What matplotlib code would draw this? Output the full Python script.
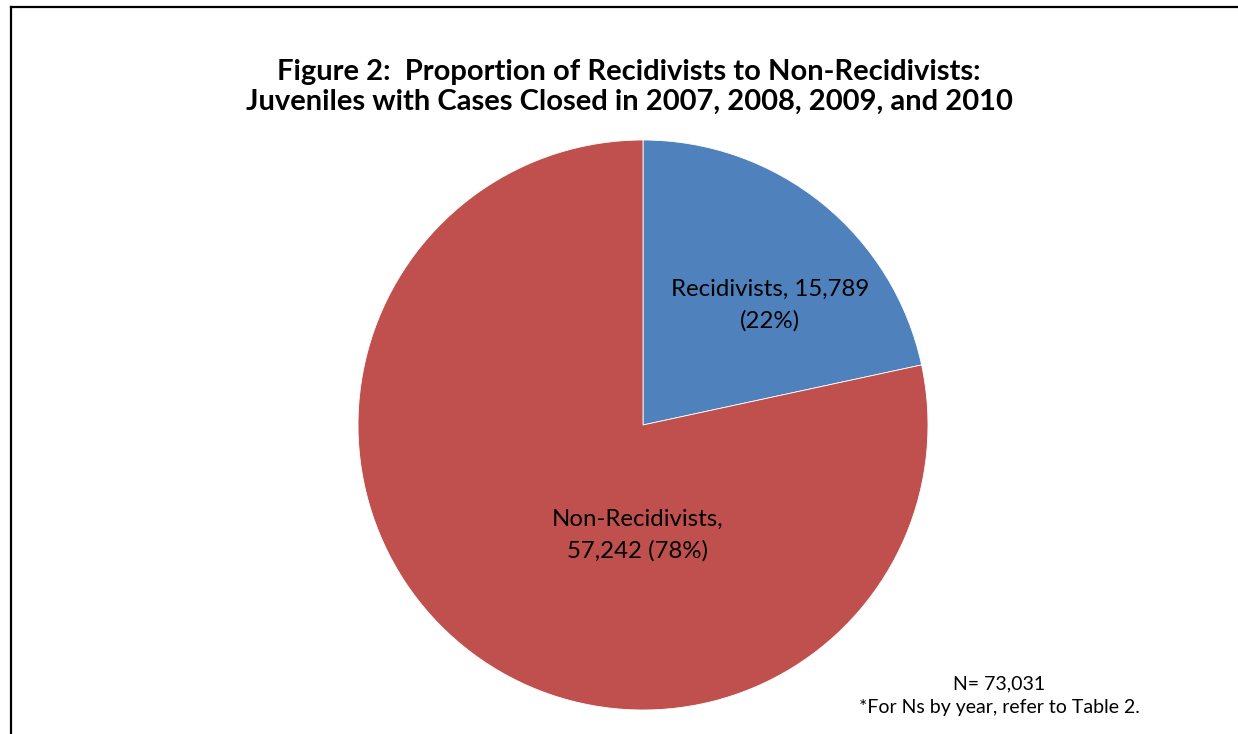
import numpy as np
import matplotlib
matplotlib.use("Agg")
from matplotlib import pyplot as plt
from matplotlib.lines import Line2D

labels = ["Recidivists", "Non-Recidivists"]
counts = [15789, 57242]
pcts = [22, 78]
colors = ["#4F81BD", "#C0504D"]
total_n = "73,031"

plt.rcParams['font.family'] = ['Lato', 'DejaVu Sans']

W, H = 1238, 734
fig = plt.figure(figsize=(W/100, H/100), dpi=100)
fig.patch.set_facecolor("white")

# pie centre (643,425) radius 285 in pixels
cx, cy, r = 643, 425, 285
ax = fig.add_axes([(cx-r)/W, (H-cy-r)/H, 2*r/W, 2*r/H])
ax.pie(counts, colors=colors, startangle=90, counterclock=False,
       radius=1, wedgeprops=dict(edgecolor="white", linewidth=0.6))
ax.set_xlim(-1, 1)
ax.set_ylim(-1, 1)
ax.set_aspect("equal")
ax.axis("off")

ax.text(0.446, 0.421, "%s, %s\n(%d%%)" % (labels[0], format(counts[0], ","), pcts[0]),
        ha="center", va="center", fontsize=17.3, linespacing=1.58)
ax.text(-0.018, -0.386, "%s,\n%s (%d%%)" % (labels[1], format(counts[1], ","), pcts[1]),
        ha="center", va="center", fontsize=17.3, linespacing=1.55)

fig.text(629/W, 1-87/H, "Figure 2:  Proportion of Recidivists to Non-Recidivists:\n"
         "Juveniles with Cases Closed in 2007, 2008, 2009, and 2010",
         ha="center", va="center", fontsize=21, fontweight="bold", linespacing=1.2)

fig.text(999/W, 1-684/H, "N= " + total_n, ha="center", va="center", fontsize=14)
fig.text(999/W, 1-708/H, "*For Ns by year, refer to Table 2.", ha="center", va="center", fontsize=14)

# frame lines (left and top)
fig.add_artist(Line2D([11/W, 11/W], [0, 1-7/H], color="black", linewidth=1.6,
                      transform=fig.transFigure))
fig.add_artist(Line2D([11/W, 1], [1-7/H, 1-7/H], color="black", linewidth=1.6,
                      transform=fig.transFigure))

fig.savefig("out.png", dpi=100)
